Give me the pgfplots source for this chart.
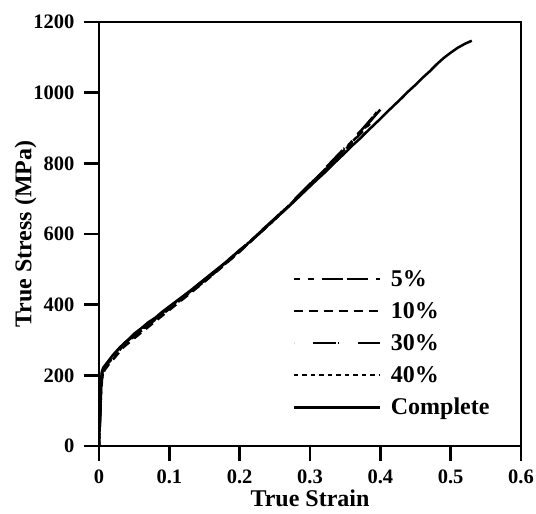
\documentclass[border=0pt]{standalone}
\usepackage{pgfplots}
\pgfplotsset{compat=1.18}
\usepackage{fontspec}
\setmainfont{Liberation Serif}
\begin{document}
\begin{tikzpicture}
\begin{axis}[
  scale only axis, width=422pt, height=424pt,
  at={(0pt,0pt)}, anchor=origin,
  xmin=0, xmax=0.6, ymin=0, ymax=1200,
  xtick={0,0.1,...,0.6}, ytick={0,200,...,1200},
  xticklabels={0,0.1,0.2,0.3,0.4,0.5,0.6},
  tick align=outside, major tick length=15pt,
  xtick pos=bottom, ytick pos=left,
  line width=2.6pt,
  axis line style={line width=2.6pt},
  every tick/.style={line width=2.6pt, black},
  /pgf/number format/assume math mode=true,
  ticklabel style={font=\fontsize{20.5}{24}\selectfont\bfseries},
  xticklabel style={yshift=-4pt},
  yticklabel style={/pgf/number format/1000 sep={}, xshift=-5pt},
  xlabel={True Strain}, ylabel={True Stress (MPa)},
  xlabel style={inner sep=0pt, yshift=-2pt},
  ylabel style={yshift=-11pt},
  label style={font=\fontsize{24}{28}\selectfont\bfseries},
  legend style={draw=none, fill=none, at={(rel axis cs:0.448,0.242)}, anchor=west,
    font=\fontsize{24}{28}\selectfont\bfseries, row sep=10.5pt,
    /tikz/every odd column/.append style={column sep=8pt}},
  legend cell align=left,
  legend image code/.code={\draw[#1] (0pt,0pt) -- (86pt,0pt);},
  every axis plot/.append style={line width=2.5pt, black},
]
\addplot[dash pattern=on 6pt off 8pt on 6pt off 8pt on 21pt off 4pt on 21pt off 8pt] coordinates {
(0,0) (0.001,60) (0.002,120) (0.004,205) (0.008,225) (0.015,242) (0.02,255) (0.035,290) (0.05,312) (0.075,352) (0.1,390) (0.125,430) (0.15,468) (0.175,510) (0.2,552) (0.225,598) (0.25,643) (0.275,690) (0.3,740) (0.325,790) (0.35,842) (0.375,895) (0.4,952)};
\addlegendentry{5\%}
\addplot[dash pattern=on 9pt off 6pt] coordinates {
(0,0) (0.001,55) (0.002,110) (0.004,195) (0.008,215) (0.015,234) (0.02,245) (0.035,280) (0.05,305) (0.075,345) (0.1,385) (0.125,425) (0.15,465) (0.175,507) (0.2,550) (0.225,596) (0.25,642) (0.275,690) (0.3,738) (0.325,787) (0.35,838) (0.385,912)};
\addlegendentry{10\%}
\addplot[dash pattern=on 23pt off 2pt on 1pt off 19pt, dash phase=26pt] coordinates {
(0,0) (0.0015,70) (0.003,150) (0.005,210) (0.01,230) (0.02,252) (0.035,288) (0.05,315) (0.075,355) (0.1,392) (0.125,432) (0.15,470) (0.175,512) (0.2,553) (0.225,599) (0.25,644) (0.275,692) (0.3,742) (0.325,793) (0.35,845) (0.375,898) (0.40,955)};
\addlegendentry{30\%}
\addplot[dash pattern=on 4.5pt off 4pt] coordinates {
(0,0) (0.0015,75) (0.003,160) (0.006,218) (0.01,228) (0.02,250) (0.035,285) (0.05,310) (0.075,350) (0.1,388) (0.125,428) (0.15,466) (0.175,508) (0.2,551) (0.225,596) (0.25,641) (0.275,689) (0.3,739) (0.325,789) (0.35,840) (0.375,892) (0.395,945)};
\addlegendentry{40\%}
\addplot[solid] coordinates {
(0,0) (0.001,60) (0.002,130) (0.003,185) (0.004,210) (0.006,222) (0.01,232) (0.015,245) (0.02,258) (0.03,280) (0.04,298) (0.05,318) (0.06,333) (0.07,350) (0.08,363) (0.09,380) (0.10,395) (0.11,410) (0.12,425) (0.13,440) (0.14,456) (0.15,472) (0.16,488) (0.17,504) (0.18,520) (0.19,537) (0.20,555) (0.21,570) (0.22,588) (0.23,605) (0.24,624) (0.25,642) (0.26,660) (0.27,678) (0.28,697) (0.29,716) (0.30,735) (0.31,754) (0.32,772) (0.33,792) (0.34,811) (0.35,830) (0.36,850) (0.37,868) (0.38,888) (0.39,907) (0.40,926) (0.41,946) (0.42,965) (0.43,984) (0.44,1004) (0.45,1022) (0.46,1042) (0.47,1060) (0.48,1080) (0.49,1098) (0.50,1113) (0.51,1127) (0.52,1138) (0.53,1147)};
\addlegendentry{Complete}
\end{axis}
\pgfresetboundingbox
\useasboundingbox (-99pt,-68pt) rectangle (437pt,446pt);
\end{tikzpicture}
\end{document}
